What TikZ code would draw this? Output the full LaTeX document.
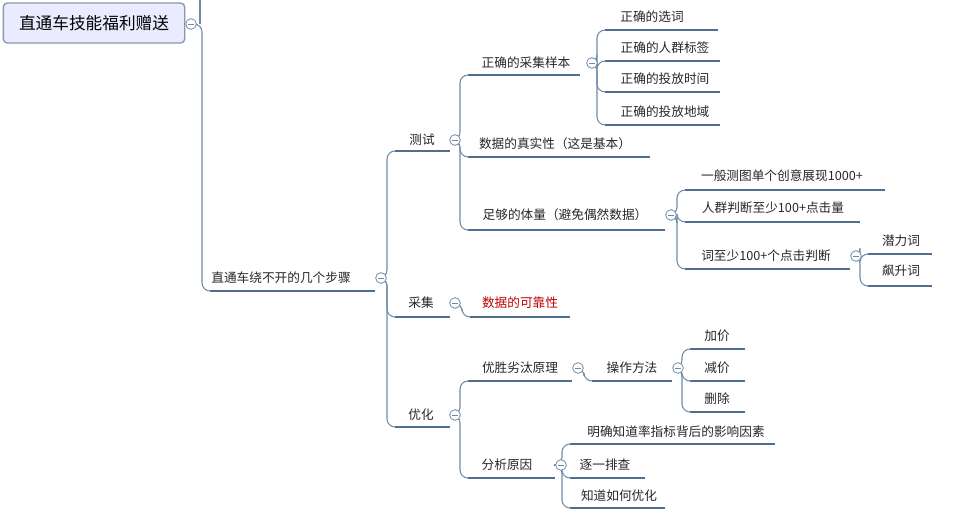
\documentclass[tikz,border=0pt]{standalone}
\usepackage{fontspec}
\setmainfont{Noto Sans CJK SC}
\usetikzlibrary{calc}
\definecolor{lc}{HTML}{6F8AA6}
\definecolor{ulc}{HTML}{4F6F8F}
\newcommand\topic[5]{\node[lbl,#5] (#1) at (#2,#3) {#4};}
\newcommand\ulin[4]{\coordinate (#1L) at (#2,#4); \coordinate (#1R) at (#3,#4); \draw[ul] (#1L)--(#1R);}
\newcommand\cn[2]{\draw[conn] (#1) -| ($(#2)+(-8,0)$) -- (#2);}
\begin{document}
\begin{tikzpicture}[x=0.75pt,y=-0.75pt,
  lbl/.style={inner sep=0pt,font=\fontsize{9.5}{11}\selectfont,text=black!85},
  ul/.style={draw=ulc,line width=1.4pt},
  conn/.style={draw=lc,line width=0.8pt,rounded corners=6pt},
  cc/.style={circle,draw=lc,fill=white,line width=0.6pt,minimum size=8pt,inner sep=0pt,
    path picture={\draw[lc,line width=0.6pt] ([xshift=-2pt]path picture bounding box.center)--([xshift=2pt]path picture bounding box.center);}}]
\useasboundingbox (0,0) rectangle (962,523);
\node[draw=ulc!70,fill=blue!8,rounded corners=3pt,line width=1pt,minimum width=136pt,minimum height=30pt,font=\fontsize{12.5}{14}\selectfont] (root) at (94,23) {直通车技能福利赠送};
\coordinate (top) at (200,0);
\draw[conn] (top) -- (200,24);
\topic{main}{281}{278}{直通车绕不开的几个步骤}{}\ulin{main}{210}{375}{291}
\topic{ce}{422}{140}{测试}{}\ulin{ce}{395}{450}{151}
\topic{cj}{421}{303}{采集}{}\ulin{cj}{395}{450}{317}
\topic{yh}{421}{415}{优化}{}\ulin{yh}{395}{450}{427}
\topic{yb}{526}{63}{正确的采集样本}{}\ulin{yb}{468}{580}{75}
\topic{zs}{555}{144}{数据的真实性（这是基本）}{}\ulin{zs}{468}{650}{157}
\topic{tl}{565}{215}{足够的体量（避免偶然数据）}{}\ulin{tl}{468}{665}{230}
\topic{a1}{652}{17}{正确的选词}{}\ulin{a1}{605}{718}{30}
\topic{a2}{665}{48}{正确的人群标签}{}\ulin{a2}{605}{720}{61}
\topic{a3}{665}{79}{正确的投放时间}{}\ulin{a3}{605}{720}{92}
\topic{a4}{665}{112}{正确的投放地域}{}\ulin{a4}{605}{720}{125}
\topic{b1}{782}{176}{一般测图单个创意展现1000+}{}\ulin{b1}{685}{885}{190}
\topic{b2}{773}{208}{人群判断至少100+点击量}{}\ulin{b2}{685}{860}{222}
\topic{b3}{766}{256}{词至少100+个点击判断}{}\ulin{b3}{685}{850}{269}
\topic{c1}{901}{241}{潜力词}{}\ulin{c1}{868}{932}{254}
\topic{c2}{901}{271}{飙升词}{}\ulin{c2}{868}{932}{286}
\topic{kk}{520}{303}{数据的可靠性}{text=red!75!black}\ulin{kk}{470}{570}{317}
\topic{ys}{520}{368}{优胜劣汰原理}{}\ulin{ys}{468}{572}{381}
\topic{fx}{507}{465}{分析原因}{}\ulin{fx}{468}{555}{478}
\topic{cz}{632}{368}{操作方法}{}\ulin{cz}{592}{672}{381}
\topic{d1}{717}{336}{加价}{}\ulin{d1}{690}{745}{349}
\topic{d2}{717}{368}{减价}{}\ulin{d2}{690}{745}{381}
\topic{d3}{717}{399}{删除}{}\ulin{d3}{690}{745}{412}
\topic{e1}{676}{432}{明确知道率指标背后的影响因素}{}\ulin{e1}{570}{775}{444}
\topic{e2}{605}{465}{逐一排查}{}\ulin{e2}{570}{645}{478}
\topic{e3}{619}{496}{知道如何优化}{}\ulin{e3}{570}{665}{508}
\coordinate (rootC) at (191,24);
\coordinate (mainC) at (381,278);
\coordinate (ceC) at (455,140);
\coordinate (cjC) at (455,303);
\coordinate (yhC) at (455,415);
\coordinate (ybC) at (592,63);
\coordinate (tlC) at (671,215);
\coordinate (b3C) at (856,256);
\coordinate (ysC) at (578,368);
\coordinate (fxC) at (561,465);
\coordinate (czC) at (678,368);
\cn{rootC}{mainL}
\cn{mainC}{ceL}\cn{mainC}{cjL}\cn{mainC}{yhL}
\cn{ceC}{ybL}\cn{ceC}{zsL}\cn{ceC}{tlL}
\cn{ybC}{a1L}\cn{ybC}{a2L}\cn{ybC}{a3L}\cn{ybC}{a4L}
\cn{tlC}{b1L}\cn{tlC}{b2L}\cn{tlC}{b3L}
\cn{b3C}{c1L}\cn{b3C}{c2L}
\cn{cjC}{kkL}
\cn{yhC}{ysL}\cn{yhC}{fxL}
\cn{ysC}{czL}
\cn{czC}{d1L}\cn{czC}{d2L}\cn{czC}{d3L}
\cn{fxC}{e1L}\cn{fxC}{e2L}\cn{fxC}{e3L}
\foreach \c in {rootC,mainC,ceC,cjC,yhC,ybC,tlC,b3C,ysC,fxC,czC} \node[cc] at (\c) {};
\end{tikzpicture}
\end{document}
